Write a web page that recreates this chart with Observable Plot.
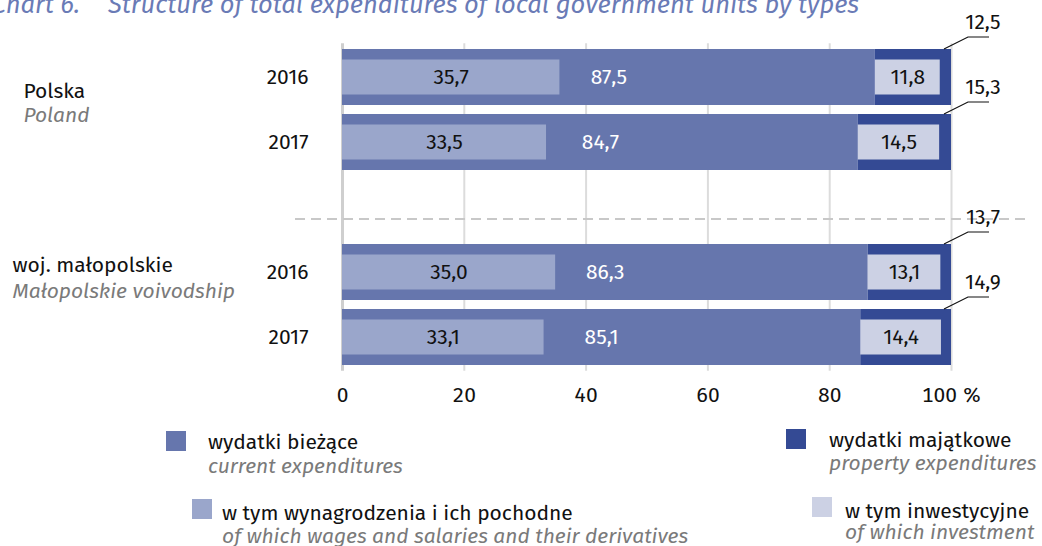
<!DOCTYPE html>
<html>
<head>
<meta charset="utf-8">
<script src="https://cdn.jsdelivr.net/npm/d3@7"></script>
<script src="https://cdn.jsdelivr.net/npm/@observablehq/plot@0.6"></script>
<style>
  html, body { margin: 0; padding: 0; background: #fff; }
  body { font-family: "Fira Sans", "Open Sans", sans-serif; }
  #wrap { position: relative; width: 1042px; height: 546px; overflow: hidden; }
  #chart { position: absolute; left: 0; top: 0; }
  #overlay { position: absolute; left: 0; top: 0; pointer-events: none; }
</style>
</head>
<body>
<div id="wrap">
  <div id="chart"></div>
</div>
<script>
// ---- data ----
const groups = ["Polska", "Polska", "woj. małopolskie", "woj. małopolskie"];
const groupsEn = ["Poland", "Poland", "Małopolskie voivodship", "Małopolskie voivodship"];
const years = ["2016", "2017", "2016", "2017"];
const current = [87.5, 84.7, 86.3, 85.1];
const wages = [35.7, 33.5, 35.0, 33.1];
const property = [12.5, 15.3, 13.7, 14.9];
const investment = [11.8, 14.5, 13.1, 14.4];
const xTicks = [0, 20, 40, 60, 80, 100];
const legendPl = ["wydatki bieżące", "w tym wynagrodzenia i ich pochodne", "wydatki majątkowe", "w tym inwestycyjne"];
const legendEn = ["current expenditures", "of which wages and salaries and their derivatives", "property expenditures", "of which investment"];
const titleLabel = "Chart 6.";
const titleText = "Structure of total expenditures of local government units by types";

// ---- styles ----
const C_CUR = "#6676ad", C_PROP = "#344a94", C_WAGE = "#9aa6cb", C_INV = "#ccd1e4";
const FONT = '"Fira Sans", "Open Sans", sans-serif';
const FS = 21;

const rows = years.map((y, i) => ({
  key: groups[i] + " " + y, group: groups[i], groupEn: groupsEn[i], year: y,
  current: current[i], wages: wages[i], property: property[i], investment: investment[i]
}));
const domain = [rows[0].key, rows[1].key, "sep", rows[2].key, rows[3].key];
const fmt = v => v.toFixed(1).replace(".", ",");

function separator(index, scales, values, dimensions) {
  const bw = scales.y.bandwidth ? scales.y.bandwidth() : 0;
  const y = scales.y("sep") + bw / 2 + 12;
  const g = d3.create("svg:g");
  g.append("line")
    .attr("x1", dimensions.marginLeft - 47).attr("x2", dimensions.width - 12)
    .attr("y1", y).attr("y2", y)
    .attr("stroke", "#c8c8c8").attr("stroke-width", 2).attr("stroke-dasharray", "10,6");
  return g.node();
}

function leaders(index, scales) {
  const g = d3.create("svg:g");
  for (const d of rows) {
    const xe = scales.x(d.current + d.property);
    const top = scales.y(d.key);
    g.append("polyline")
      .attr("points", [[xe - 7, top], [xe + 17, top - 12], [xe + 38, top - 12]].map(p => p.join(",")).join(" "))
      .attr("fill", "none").attr("stroke", "#111").attr("stroke-width", 1.2);
    g.append("text")
      .attr("x", xe + 32).attr("y", top - 20)
      .attr("text-anchor", "middle").attr("font-size", FS).attr("fill", "#111")
      .attr("font-family", FONT)
      .text(fmt(d.property));
  }
  return g.node();
}

const groupMarks = [];
const gOpts = {"Polska": {dx: -319, dy1: 14, dy2: 37.5}, "woj. małopolskie": {dx: -330, dy1: -7.7, dy2: 18.3}};
for (const gname of ["Polska", "woj. małopolskie"]) {
  const sub = rows.filter(d => d.group === gname && d.year === "2016");
  const o = gOpts[gname];
  groupMarks.push(Plot.text(sub, {x: 0, y: "key", text: "group", textAnchor: "start", dx: o.dx, dy: o.dy1, fill: "#111", fontSize: FS}));
  groupMarks.push(Plot.text(sub, {x: 0, y: "key", text: "groupEn", textAnchor: "start", dx: o.dx, dy: o.dy2, fill: "#7a7a7a", fontSize: FS, fontStyle: "italic"}));
}

const chart = Plot.plot({
  width: 1042,
  height: 546,
  marginLeft: 342,
  marginRight: 91,
  marginTop: 43.25,
  marginBottom: 546 - 370.75,
  style: {fontFamily: FONT, fontSize: FS + "px", color: "#111", background: "transparent", overflow: "visible"},
  x: {domain: [0, 100], ticks: xTicks},
  y: {domain, paddingInner: 0.137, paddingOuter: 0.0685, axis: null},
  marks: [
    Plot.ruleX(xTicks.filter(d => d > 0), {stroke: "#dcdcdc", strokeWidth: 2}),
    Plot.ruleX([0], {stroke: "#cfcfcf", strokeWidth: 3}),
    separator,
    Plot.barX(rows, {x1: 0, x2: "current", y: "key", fill: C_CUR}),
    Plot.barX(rows, {x1: "current", x2: d => d.current + d.property, y: "key", fill: C_PROP}),
    Plot.barX(rows, {x1: 0, x2: "wages", y: "key", fill: C_WAGE, insetTop: 10.5, insetBottom: 10.5}),
    Plot.barX(rows, {x1: "current", x2: d => d.current + d.investment, y: "key", fill: C_INV, insetTop: 10.5, insetBottom: 10.5, insetRight: 7}),
    Plot.text(rows, {x: d => d.wages / 2, y: "key", text: d => fmt(d.wages), fill: "#111", fontSize: FS}),
    Plot.text(rows, {x: d => d.current / 2, y: "key", text: d => fmt(d.current), fill: "#fff", fontSize: FS}),
    Plot.text(rows, {x: d => d.current + d.investment / 2, y: "key", text: d => fmt(d.investment), fill: "#111", fontSize: FS, dx: -3.5}),
    Plot.text(rows, {x: 0, y: "key", text: "year", textAnchor: "end", dx: -34, fill: "#111", fontSize: FS}),
    ...groupMarks,
    leaders,
    Plot.axisX({ticks: xTicks, tickSize: 0, tickPadding: 16, fontSize: FS, tickFormat: d => d === 100 ? "100 %" : String(d)})
  ]
});
document.getElementById("chart").appendChild(chart);

// ---- title and legend (overlay SVG) ----
const ov = d3.select("#wrap").append("svg").attr("id", "overlay")
  .attr("width", 1042).attr("height", 546)
  .attr("font-family", FONT);

ov.append("text").attr("x", 80).attr("y", 13).attr("text-anchor", "end")
  .attr("font-size", 25.5).attr("font-style", "italic").attr("fill", "#6a7bb6").text(titleLabel);
ov.append("text").attr("x", 108).attr("y", 13)
  .attr("font-size", 25.5).attr("font-style", "italic").attr("fill", "#6a7bb6").text(titleText);

const legendLayout = [
  {sx: 166, sy: 431, tx: 208, b1: 449, b2: 473, color: C_CUR},
  {sx: 192, sy: 499, tx: 222, b1: 520, b2: 543, color: C_WAGE},
  {sx: 786, sy: 429, tx: 829, b1: 447, b2: 470, color: C_PROP},
  {sx: 812, sy: 497, tx: 845, b1: 518, b2: 539, color: C_INV}
];
legendLayout.forEach((L, i) => {
  ov.append("rect").attr("x", L.sx).attr("y", L.sy).attr("width", 20).attr("height", 20).attr("fill", L.color);
  ov.append("text").attr("x", L.tx).attr("y", L.b1).attr("font-size", FS).attr("fill", "#111").text(legendPl[i]);
  ov.append("text").attr("x", L.tx).attr("y", L.b2).attr("font-size", FS).attr("font-style", "italic").attr("fill", "#7a7a7a").text(legendEn[i]);
});
</script>
</body>
</html>
